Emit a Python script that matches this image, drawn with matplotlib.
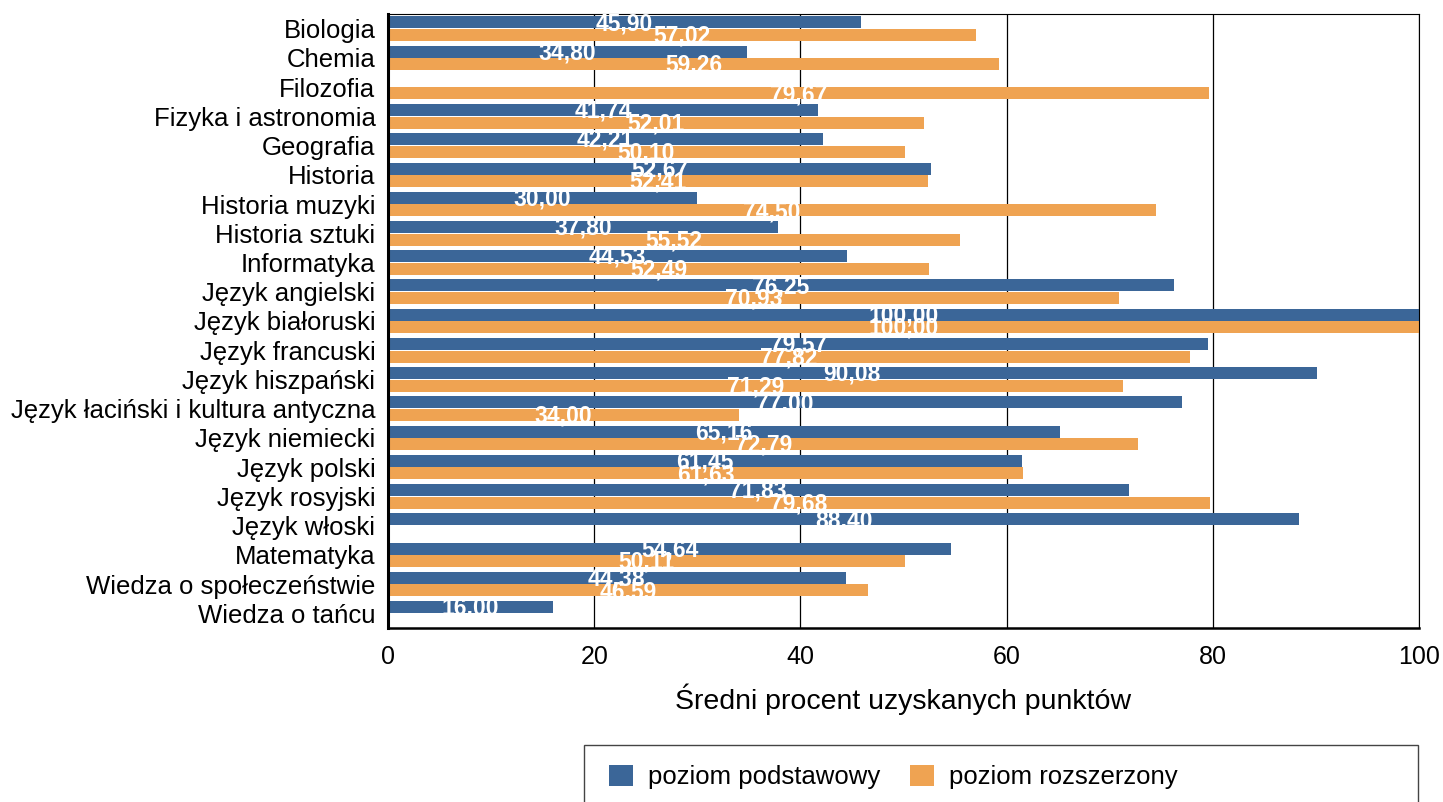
import matplotlib
matplotlib.use("Agg")
import matplotlib.pyplot as plt
import numpy as np
from matplotlib.patches import Rectangle

categories = ["Biologia", "Chemia", "Filozofia", "Fizyka i astronomia", "Geografia",
              "Historia", "Historia muzyki", "Historia sztuki", "Informatyka",
              "Język angielski", "Język białoruski", "Język francuski", "Język hiszpański",
              "Język łaciński i kultura antyczna", "Język niemiecki", "Język polski",
              "Język rosyjski", "Język włoski", "Matematyka", "Wiedza o społeczeństwie",
              "Wiedza o tańcu"]
podstawowy = [45.90, 34.80, None, 41.74, 42.21, 52.67, 30.00, 37.80, 44.53, 76.25,
              100.00, 79.57, 90.08, 77.00, 65.16, 61.45, 71.83, 88.40, 54.64, 44.38, 16.00]
rozszerzony = [57.02, 59.26, 79.67, 52.01, 50.10, 52.41, 74.50, 55.52, 52.49, 70.93,
               100.00, 77.82, 71.29, 34.00, 72.79, 61.63, 79.68, None, 50.11, 46.59, None]
series_names = ["poziom podstawowy", "poziom rozszerzony"]
xticks = [0, 20, 40, 60, 80, 100]

BLUE = "#3B6698"
ORANGE = "#EFA352"

plt.rcParams['font.family'] = ['Liberation Sans', 'DejaVu Sans']

W, H = 1443, 802
fig = plt.figure(figsize=(W / 100, H / 100), dpi=100)
ax = fig.add_axes([388 / W, 1 - 628 / H, (1419 - 388) / W, (628 - 14) / H])

n = len(categories)
y = np.arange(n)
h = 0.41
off = 0.215

def fmt(v):
    return f"{v:.2f}".replace(".", ",")

handles = []
for vals, color, sign, name in [(podstawowy, BLUE, -1, series_names[0]),
                                (rozszerzony, ORANGE, 1, series_names[1])]:
    ys = y + sign * off
    w = [v if v is not None else 0 for v in vals]
    bc = ax.barh(ys, w, height=h, color=color, label=name, zorder=2)
    handles.append(bc)
    for yi, v in zip(ys, vals):
        if v is None:
            continue
        ax.text(v / 2, yi + 0.04, fmt(v), ha="center", va="center", color="white",
                fontsize=16.5, fontweight="bold", zorder=3)

ax.set_xlim(0, 100)
ax.set_ylim(n - 0.5, -0.5)
ax.set_yticks(y)
ax.set_yticklabels(categories, fontsize=18.5)
ax.set_xticks(xticks)
ax.set_xticklabels([str(t) for t in xticks], fontsize=18)
ax.tick_params(axis="y", length=0, pad=9)
ax.tick_params(axis="x", length=0, pad=12)
ax.xaxis.grid(True, color="black", linewidth=0.9, zorder=1)
ax.set_axisbelow(True)
for s in ["top", "right"]:
    ax.spines[s].set_linewidth(0.8)
ax.spines["left"].set_linewidth(2.2)
ax.spines["bottom"].set_linewidth(1.8)
ax.set_xlabel("Średni procent uzyskanych punktów", fontsize=20.5, labelpad=11)

# legend frame (extends below the figure edge like in the reference)
fig.patches.append(Rectangle((584 / W, -0.05), (1418 - 584) / W, 0.05 + (802 - 745) / H,
                             transform=fig.transFigure, fill=False, edgecolor="#444444",
                             linewidth=1.0))
leg = fig.legend(handles=handles, labels=series_names, loc="center left",
                 bbox_to_anchor=(609 / W, 1 - 777 / H), ncol=2, fontsize=18.5,
                 frameon=False, handlelength=0.93, handleheight=0.9,
                 handletextpad=0.58, columnspacing=1.17, borderaxespad=0, borderpad=0)

fig.savefig("out.png", dpi=100)
